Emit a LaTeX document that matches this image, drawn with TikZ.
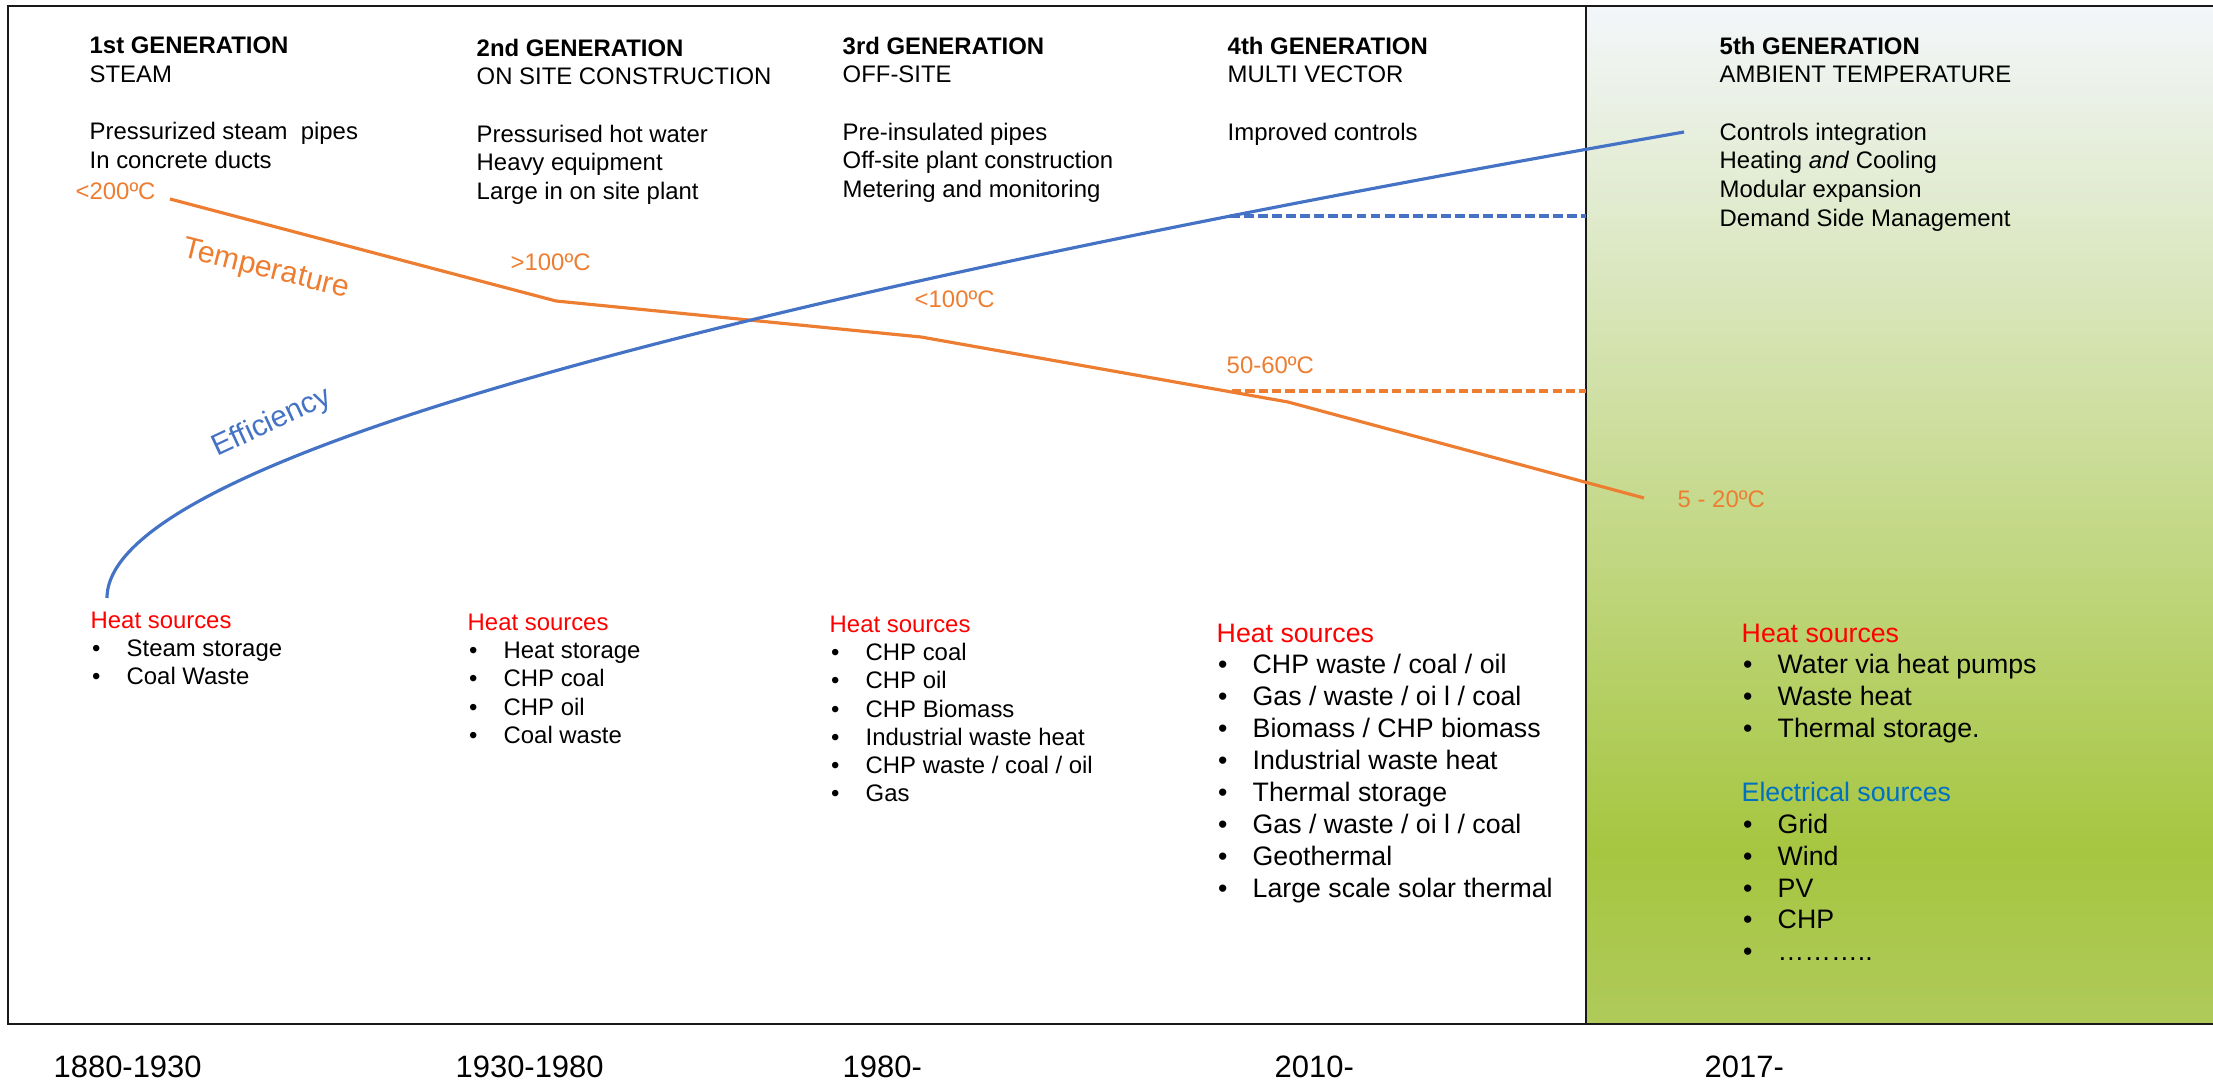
\documentclass[tikz,border=0pt]{standalone}
\usepackage{fontspec}
\setmainfont{Liberation Sans}
\definecolor{tempcol}{HTML}{ED7D31}
\definecolor{effcol}{HTML}{4472C4}
\definecolor{srcred}{HTML}{FF0000}
\definecolor{eleccol}{HTML}{0070C0}
\definecolor{gentop}{HTML}{F3F6FA}
\definecolor{genmid}{HTML}{A6C640}
\definecolor{genbot}{HTML}{AFCA5A}
\newcommand{\itm}{\makebox[3.6mm][l]{\hspace{0.15mm}\textbullet}}
\tikzset{
  gen/.style={anchor=north west, inner sep=0pt, align=left, font=\fontsize{6.8}{8.2}\selectfont},
  src/.style={anchor=north west, inner sep=0pt, align=left, font=\fontsize{6.8}{8.05}\selectfont},
  bigsrc/.style={src, font=\fontsize{7.6}{9.07}\selectfont},
  templbl/.style={anchor=base west, inner sep=0pt, text=tempcol, font=\fontsize{6.8}{8}\selectfont},
  year/.style={anchor=base west, inner sep=0pt, font=\fontsize{8.8}{10}\selectfont},
  templine/.style={tempcol, line width=0.9pt},
  effline/.style={effcol, line width=0.9pt},
  frame/.style={black!90, line width=0.75pt}
}
\begin{document}
\begin{tikzpicture}[x=0.1mm, y=-0.1mm]
\useasboundingbox (0,0) rectangle (2213,1082);
\shade[top color=gentop, bottom color=genmid] (1586,6) rectangle (2213,852);
\shade[top color=genmid, bottom color=genbot] (1586,850) rectangle (2213,1024);
\draw[frame] (2213,6) -- (8,6) -- (8,1024) -- (2213,1024);
\draw[frame] (1586,6) -- (1586,1024);

\coordinate (t1) at (170,199);
\coordinate (t2) at (556,301);
\coordinate (t3) at (921,337);
\coordinate (t4) at (1288,402);
\coordinate (t5) at (1644,498);
\coordinate (td) at (1232,391);
\coordinate (e1) at (107,598);
\coordinate (e2) at (1684,132);
\coordinate (ed) at (1230,216);
\draw[templine] (t1) -- (t2) -- (t3) -- (t4) -- (t5);
\draw[templine, dash pattern=on 2.6pt off 1.2pt] (td) -- (1586,391);
\draw[effline] (e1) .. controls (107,471) and (633,316) .. (e2);
\draw[effline, dash pattern=on 2.8pt off 1.2pt] (ed) -- (1586,216);

\node[templbl] (c200) at (75,200) {<200ºC};
\node[templbl] (c100a) at (510,271) {>100ºC};
\node[templbl] (c100b) at (914,308) {<100ºC};
\node[templbl] (c50) at (1226,373) {50-60ºC};
\node[templbl] (c5) at (1677,507) {5 - 20ºC};
\node[rotate=-14, text=tempcol, font=\fontsize{8.6}{10}\selectfont] (templab) at (266,270) {Temperature};
\node[rotate=25, text=effcol, font=\fontsize{8.5}{10}\selectfont] (efflab) at (272,423) {Efficiency};

\node[gen] (gen1) at (89,36) {\textbf{1st GENERATION}\\STEAM\\[8.1pt]Pressurized steam\ \ pipes\\In concrete ducts};
\node[gen] (gen2) at (476,38) {\textbf{2nd GENERATION}\\ON SITE CONSTRUCTION\\[8.1pt]Pressurised hot water\\Heavy equipment\\Large in on site plant};
\node[gen] (gen3) at (842,36) {\textbf{3rd GENERATION}\\OFF-SITE\\[8.1pt]Pre-insulated pipes\\Off-site plant construction\\Metering and monitoring};
\node[gen] (gen4) at (1227,36) {\textbf{4th GENERATION}\\MULTI VECTOR\\[8.1pt]Improved controls};
\node[gen] (gen5) at (1719,36) {\textbf{5th GENERATION}\\AMBIENT TEMPERATURE\\[8.1pt]Controls integration\\Heating \textit{and} Cooling\\Modular expansion\\Demand Side Management};

\node[src] (src1) at (90,611) {\textcolor{srcred}{Heat sources}\\\itm Steam storage\\\itm Coal Waste};
\node[src] (src2) at (467,613) {\textcolor{srcred}{Heat sources}\\\itm Heat storage\\\itm CHP coal\\\itm CHP oil\\\itm Coal waste};
\node[src] (src3) at (829,615) {\textcolor{srcred}{Heat sources}\\\itm CHP coal\\\itm CHP oil\\\itm CHP Biomass\\\itm Industrial waste heat\\\itm CHP waste / coal / oil\\\itm Gas};
\node[bigsrc] (src4) at (1216,623) {\textcolor{srcred}{Heat sources}\\\itm CHP waste / coal / oil\\\itm Gas / waste / oi l / coal\\\itm Biomass / CHP biomass\\\itm Industrial waste heat\\\itm Thermal storage\\\itm Gas / waste / oi l / coal\\\itm Geothermal\\\itm Large scale solar thermal};
\node[bigsrc] (src5) at (1741,623) {\textcolor{srcred}{Heat sources}\\\itm Water via heat pumps\\\itm Waste heat\\\itm Thermal storage.\\[9.07pt]\textcolor{eleccol}{Electrical sources}\\\itm Grid\\\itm Wind\\\itm PV\\\itm CHP\\\itm ………..};

\node[year] (y1) at (53,1077) {1880-1930};
\node[year] (y2) at (455,1077) {1930-1980};
\node[year] (y3) at (842,1077) {1980-};
\node[year] (y4) at (1274,1077) {2010-};
\node[year] (y5) at (1704,1077) {2017-};
\end{tikzpicture}
\end{document}
